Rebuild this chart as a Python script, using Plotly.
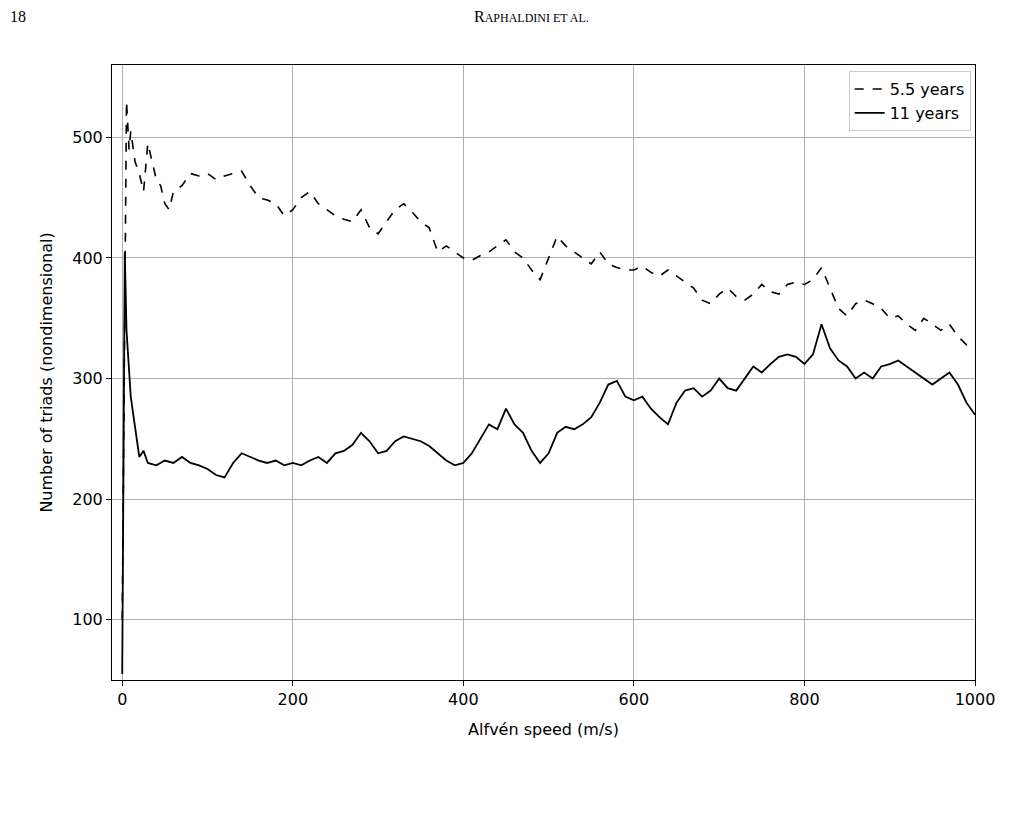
import plotly.graph_objects as go

x_dash = [0,3,5,8,10,15,20,25,30,35,40,45,50,55,60,70,80,90,100,110,120,130,140,150,160,170,180,190,200,210,220,230,240,250,260,270,280,290,300,310,320,330,340,350,360,370,380,390,400,410,420,430,440,450,460,470,480,490,500,510,520,530,540,550,560,570,580,590,600,610,620,630,640,650,660,670,680,690,700,710,720,730,740,750,760,770,780,790,800,810,820,830,840,850,860,870,880,890,900,910,920,930,940,950,960,970,980,990,1000]
y_dash = [100,400,530,490,505,480,470,455,495,480,465,460,445,440,455,460,470,468,470,465,468,470,472,460,450,448,445,435,440,450,455,445,440,435,432,430,440,425,420,430,440,445,438,430,425,405,410,405,400,398,402,405,410,415,405,400,390,382,400,418,410,405,400,395,405,395,392,390,390,393,388,385,390,385,380,375,365,362,370,375,368,365,370,378,372,370,378,380,378,382,392,375,358,352,362,365,362,358,350,352,345,340,350,345,340,345,335,328,332]

x_solid = [0,2,3,5,8,10,15,20,25,30,40,50,60,70,80,90,100,110,120,130,140,150,160,170,180,190,200,210,220,230,240,250,260,270,280,290,300,310,320,330,340,350,360,370,380,390,400,410,420,430,440,450,460,470,480,490,500,510,520,530,540,550,560,570,580,590,600,610,620,630,640,650,660,670,680,690,700,710,720,730,740,750,760,770,780,790,800,810,820,830,840,850,860,870,880,890,900,910,920,930,940,950,960,970,980,990,1000]
y_solid = [55,300,405,340,300,285,260,235,240,230,228,232,230,235,230,228,225,220,218,230,238,235,232,230,232,228,230,228,232,235,230,238,240,245,255,248,238,240,248,252,250,248,244,238,232,228,230,238,250,262,258,275,262,255,240,230,238,255,260,258,262,268,280,295,298,285,282,285,275,268,262,280,290,292,285,290,300,292,290,300,310,305,312,318,320,318,312,320,345,325,315,310,300,305,300,310,312,315,310,305,300,295,300,305,295,280,270]

x_ticks = [0, 200, 400, 600, 800, 1000]
y_ticks = [100, 200, 300, 400, 500]

fig = go.Figure()
fig.add_trace(go.Scatter(x=x_dash, y=y_dash, mode="lines", name="5.5 years",
                         line=dict(color="black", width=1.6, dash="dash")))
fig.add_trace(go.Scatter(x=x_solid, y=y_solid, mode="lines", name="11 years",
                         line=dict(color="black", width=1.8)))

axis_common = dict(showgrid=True, gridcolor="#b0b0b0", gridwidth=1, showline=True,
                   linecolor="black", mirror=True, ticks="outside", ticklen=5,
                   tickcolor="black", zeroline=False,
                   tickfont=dict(family="DejaVu Sans", size=16, color="black"))
fig.update_xaxes(range=[-12, 1000], tickvals=x_ticks, **axis_common,
                 title=dict(text="Alfvén speed (m/s)", font=dict(family="DejaVu Sans", size=16, color="black")))
fig.update_yaxes(range=[50, 560], tickvals=y_ticks, **axis_common,
                 title=dict(text="Number of triads (nondimensional)", font=dict(family="DejaVu Sans", size=16, color="black")))

fig.update_layout(
    width=1010, height=817, paper_bgcolor="white", plot_bgcolor="white",
    margin=dict(l=104, r=43, t=57, b=145),
    showlegend=True,
    legend=dict(x=0.995, y=0.99, xanchor="right", yanchor="top",
                bgcolor="rgba(255,255,255,0.9)", bordercolor="#cccccc", borderwidth=1,
                font=dict(family="DejaVu Sans", size=16, color="black")),
    annotations=[
        dict(text="18", x=0, y=1, xref="paper", yref="paper", xanchor="left", yanchor="bottom",
             xshift=-104, yshift=38, showarrow=False, font=dict(family="Liberation Serif", size=16, color="black")),
        dict(text="R<span style='font-size:12px'>APHALDINI ET AL.</span>", x=0.5, y=1, xref="paper", yref="paper",
             xanchor="center", yanchor="bottom", yshift=38, xshift=-12, showarrow=False,
             font=dict(family="Liberation Serif", size=16, color="black")),
    ],
)
fig.write_html("out.html")
